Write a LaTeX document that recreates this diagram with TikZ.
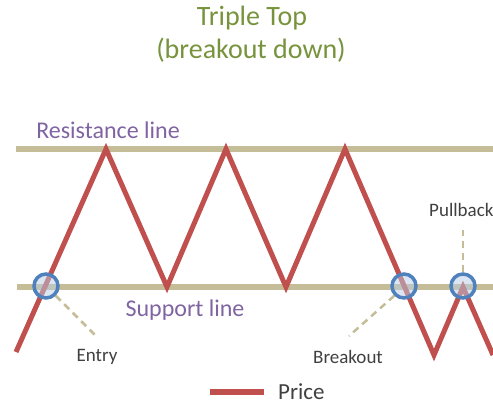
\documentclass[tikz,border=0pt]{standalone}
\usepackage{fontspec}
\setmainfont{Carlito}
\usepackage{xcolor}
\usetikzlibrary{positioning}

\definecolor{pricered}{HTML}{C0504D}
\definecolor{leveltan}{HTML}{C4BD97}
\definecolor{markblue}{HTML}{4F81BD}
\definecolor{titlegreen}{HTML}{77933C}
\definecolor{lblpurple}{HTML}{8064A2}
\definecolor{lblgray}{HTML}{404040}

\begin{document}
\begin{tikzpicture}[
    x=1pt, y=-1pt,
    level/.style={draw=leveltan, line width=6pt},
    price/.style={draw=pricered, line width=5pt, line join=miter},
    marker/.style={circle, draw=markblue, line width=3.5pt, fill=markblue!40, fill opacity=0.5, minimum size=24pt, inner sep=0pt},
    callout/.style={draw=leveltan, line width=2.5pt, dash pattern=on 7pt off 5pt},
    title/.style={text=titlegreen, font=\fontsize{28}{32}\selectfont},
    linelbl/.style={text=lblpurple, font=\fontsize{24}{28}\selectfont},
    ptlbl/.style={text=lblgray, font=\fontsize{19}{22}\selectfont}
]
\clip (0,0) rectangle (493,405);
% title
\node[title] (ttl) at (252,18) {Triple Top};
\node[title] (sub) at (251,50) {(breakout down)};
% resistance and support
\coordinate (resL) at (16,149);
\coordinate (resR) at (493,149);
\coordinate (supL) at (17,287);
\coordinate (supR) at (493,287);
\draw[level] (resL) -- (resR);
\draw[level] (supL) -- (supR);
\node[linelbl] (reslbl) at (108,130) {Resistance line};
\node[linelbl] (suplbl) at (185,310) {Support line};
% price path
\draw[price] (16,352) -- (106,149) -- (167,287) -- (226,149) -- (286,287)
    -- (345,149) -- (434,355) -- (463,287) -- (493,355);
% markers
\node[marker] (entry) at (46,286) {};
\node[marker] (brk) at (404,286) {};
\node[marker] (pull) at (463,286) {};
% callouts
\node[ptlbl] (entrylbl) at (97,357) {Entry};
\node[ptlbl] (brklbl) at (348,357) {Breakout};
\node[ptlbl, anchor=west, inner sep=0pt] (pulllbl) at (429,210) {Pullback};
\coordinate (entryend) at (98,338);
\coordinate (brkend) at (349,336);
\coordinate (pullend) at (463,230);
\draw[callout] (entry.-45) -- (entryend);
\draw[callout] (brk.-135) -- (brkend);
\draw[callout] (pull.north) -- (pullend);
% legend
\coordinate (legL) at (210,392);
\coordinate (legR) at (264,392);
\draw[draw=pricered, line width=5.5pt] (legL) -- (legR);
\node[ptlbl, font=\fontsize{23}{27}\selectfont, anchor=west, inner sep=0pt, right=14pt of legR] (leglbl) {Price};
\end{tikzpicture}
\end{document}
